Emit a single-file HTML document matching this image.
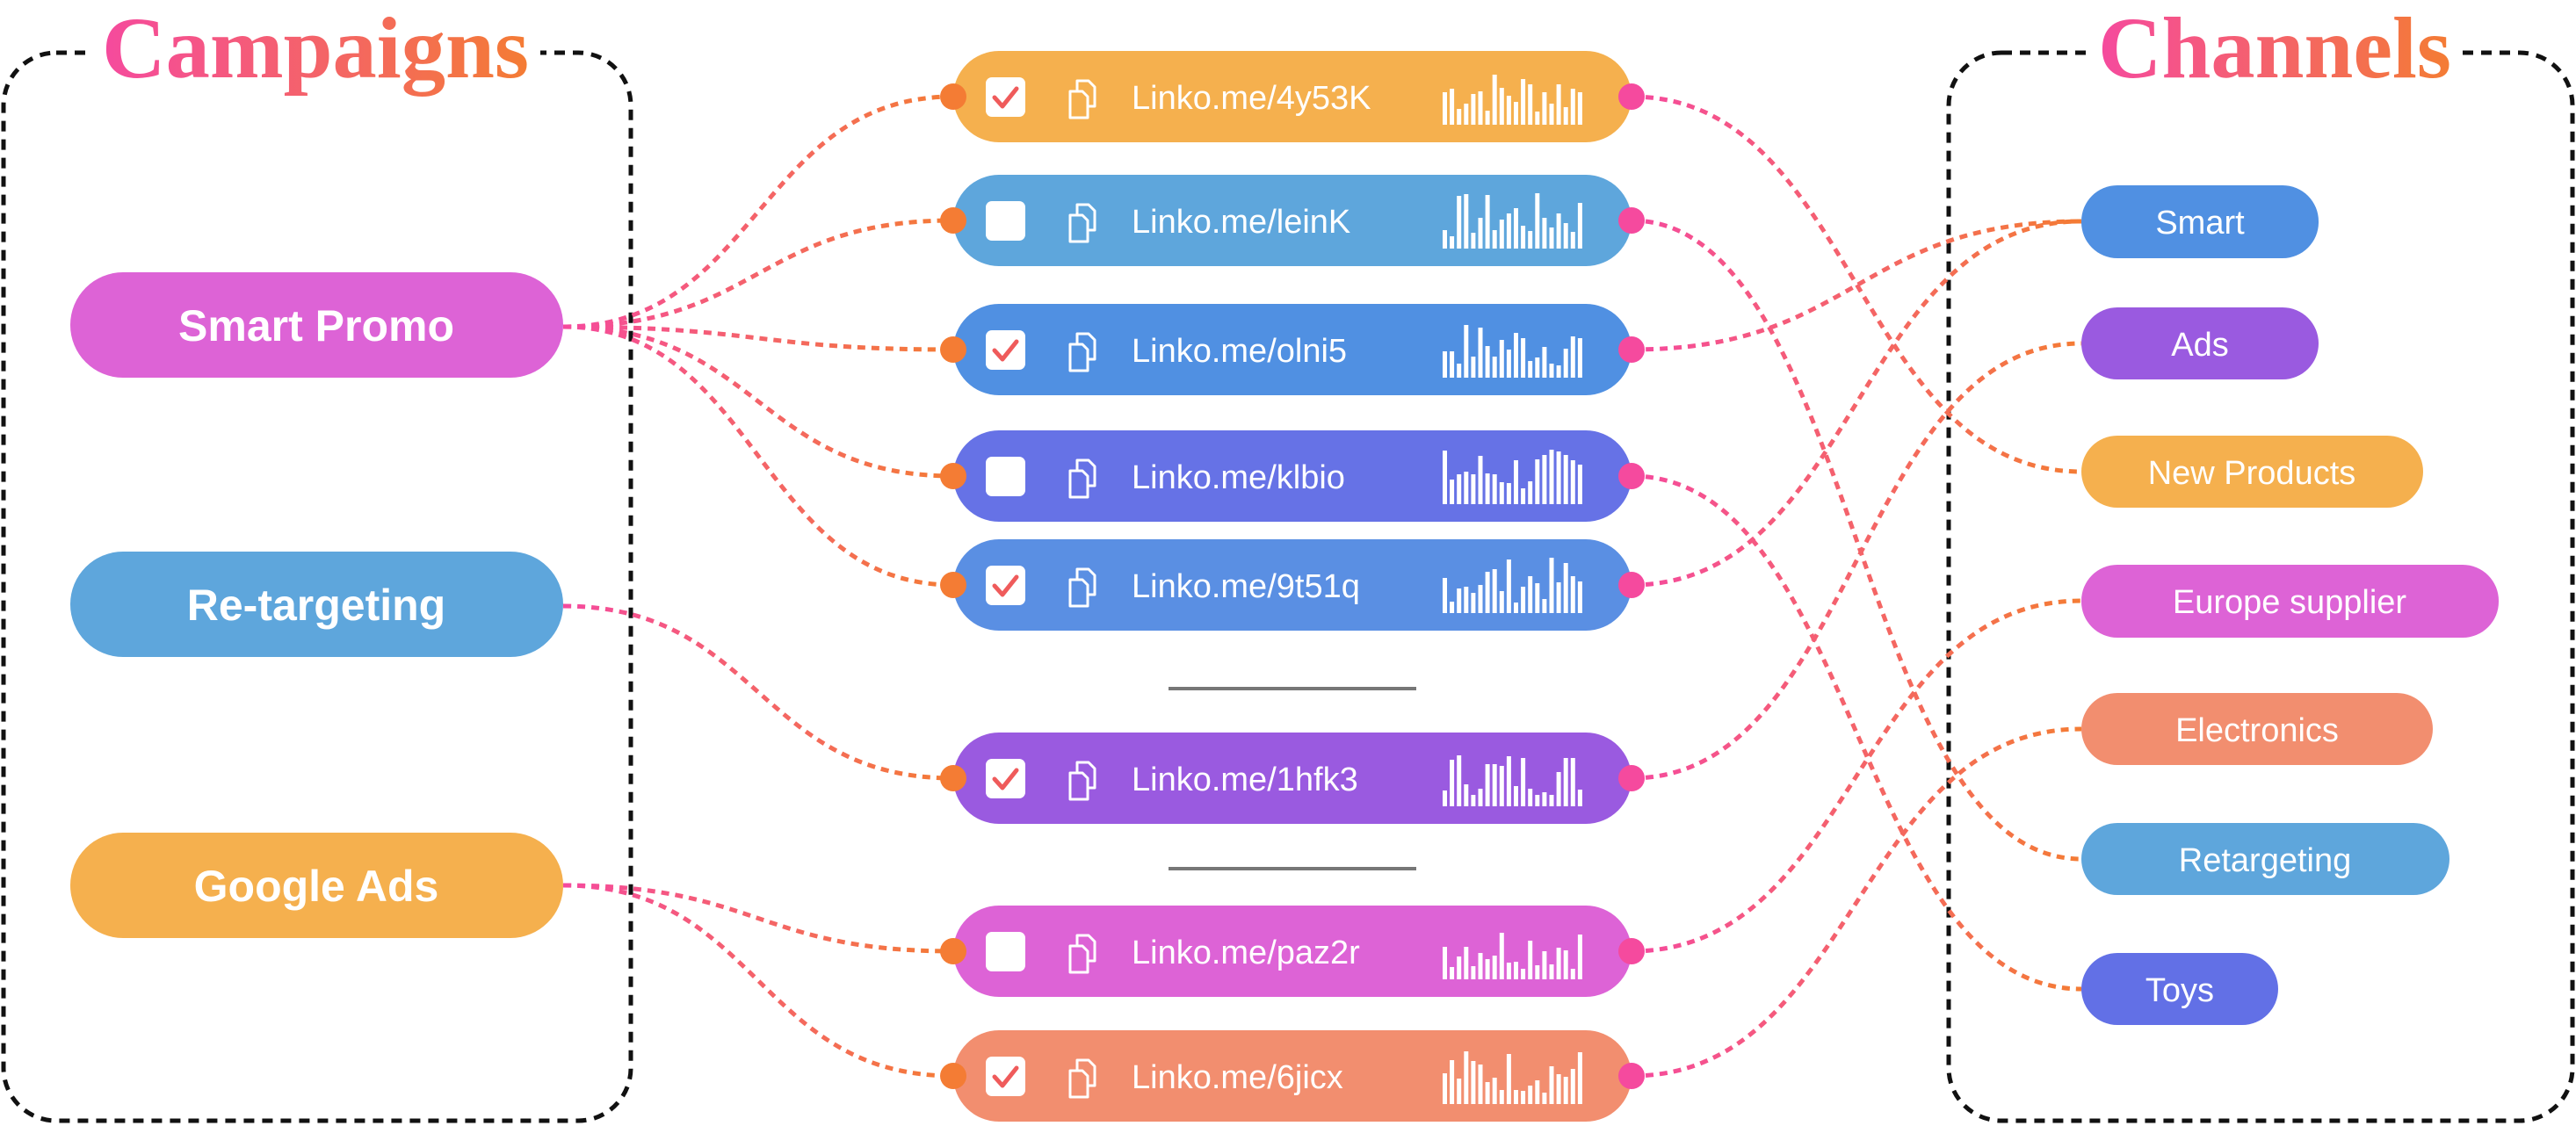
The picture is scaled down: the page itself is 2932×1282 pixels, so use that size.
<!DOCTYPE html>
<html><head><meta charset="utf-8"><style>
html,body{margin:0;padding:0;background:#fff;}
svg{display:block;}
.lt{font-family:"Liberation Sans",sans-serif;fill:#fff;font-size:38px;}
.ct{font-family:"Liberation Sans",sans-serif;fill:#fff;font-size:50px;font-weight:bold;}
.ch{font-family:"Liberation Sans",sans-serif;fill:#fff;font-size:38px;}
.tt{font-family:"Liberation Serif",serif;font-weight:bold;font-size:100px;}
</style></head><body>
<svg id="s" width="2932" height="1282" viewBox="0 0 2932 1282" xmlns="http://www.w3.org/2000/svg">
<defs>
<linearGradient id="tg" x1="0" x2="1" y1="0" y2="0"><stop offset="0" stop-color="#f54a9e"/><stop offset="1" stop-color="#f47c34"/></linearGradient>
<linearGradient id="gl" gradientUnits="userSpaceOnUse" x1="641" x2="1085" y1="0" y2="0"><stop offset="0" stop-color="#f54a9e"/><stop offset="1" stop-color="#f47c34"/></linearGradient>
<linearGradient id="gr" gradientUnits="userSpaceOnUse" x1="1857" x2="2369" y1="0" y2="0"><stop offset="0" stop-color="#f54a9e"/><stop offset="1" stop-color="#f47c34"/></linearGradient>
</defs>
<!-- boxes -->
<rect x="4" y="60" width="714" height="1216" rx="60" fill="none" stroke="#111" stroke-width="5" stroke-dasharray="12 9"/>
<rect x="2218" y="60" width="710" height="1216" rx="60" fill="none" stroke="#111" stroke-width="5" stroke-dasharray="12 9"/>
<rect x="105" y="20" width="510" height="80" fill="#fff"/>
<rect x="2378" y="20" width="424" height="80" fill="#fff"/>
<text class="tt" x="116" y="88" textLength="486" lengthAdjust="spacingAndGlyphs" fill="url(#tg)">Campaigns</text>
<text class="tt" x="2388" y="88" textLength="402" lengthAdjust="spacingAndGlyphs" fill="url(#tg)">Channels</text>
<!-- separators -->
<line x1="1330" y1="784" x2="1612" y2="784" stroke="#777" stroke-width="4"/>
<line x1="1330" y1="989" x2="1612" y2="989" stroke="#777" stroke-width="4"/>
<g id="curves"></g>
<!-- campaigns -->
<rect x="80" y="310" width="561" height="120" rx="60" fill="#dd63d6"/>
<text class="ct" x="360" y="388" text-anchor="middle">Smart Promo</text>
<rect x="80" y="628" width="561" height="120" rx="60" fill="#5ea6dc"/>
<text class="ct" x="360" y="706" text-anchor="middle">Re-targeting</text>
<rect x="80" y="948" width="561" height="120" rx="60" fill="#f5b04e"/>
<text class="ct" x="360" y="1026" text-anchor="middle">Google Ads</text>
<!-- channels -->
<rect x="2369" y="211" width="270" height="83" rx="41" fill="#5090e2"/><text class="ch" x="2504" y="266" text-anchor="middle">Smart</text>
<rect x="2369" y="350" width="270" height="82" rx="41" fill="#9a5ae0"/><text class="ch" x="2504" y="405" text-anchor="middle">Ads</text>
<rect x="2369" y="496" width="389" height="82" rx="41" fill="#f5b04e"/><text class="ch" x="2563" y="551" text-anchor="middle">New Products</text>
<rect x="2369" y="643" width="475" height="83" rx="41" fill="#dd63d6"/><text class="ch" x="2606" y="698" text-anchor="middle">Europe supplier</text>
<rect x="2369" y="789" width="400" height="82" rx="41" fill="#f28e6f"/><text class="ch" x="2569" y="844" text-anchor="middle">Electronics</text>
<rect x="2369" y="937" width="419" height="82" rx="41" fill="#5ea6dc"/><text class="ch" x="2578" y="992" text-anchor="middle">Retargeting</text>
<rect x="2369" y="1085" width="224" height="82" rx="41" fill="#6270e6"/><text class="ch" x="2481" y="1140" text-anchor="middle">Toys</text>
<!-- links -->
<g id="links">
<text class="lt" x="1288" y="124">Linko.me/4y53K</text>
<text class="lt" x="1288" y="265">Linko.me/leinK</text>
<text class="lt" x="1288" y="412">Linko.me/olni5</text>
<text class="lt" x="1288" y="556">Linko.me/klbio</text>
<text class="lt" x="1288" y="680">Linko.me/9t51q</text>
<text class="lt" x="1288" y="900">Linko.me/1hfk3</text>
<text class="lt" x="1288" y="1097">Linko.me/paz2r</text>
<text class="lt" x="1288" y="1239">Linko.me/6jicx</text>
</g>
</svg>
<script>
var NS="http://www.w3.org/2000/svg",s=document.getElementById('s');
function el(t,a,p){var e=document.createElementNS(NS,t);for(var k in a)e.setAttribute(k,a[k]);(p||s).appendChild(e);return e;}
var rows=[[110,'#f5b04e',1],[251,'#5ea6dc',0],[398,'#5090e2',1],[542,'#6672e6',0],[666,'#5a8fe3',1],[886,'#9a5ae0',1],[1083,'#dd63d6',0],[1225,'#f28e6f',1]];
var links=document.getElementById('links'),cur=document.getElementById('curves');
function curve(x1,y1,x2,y2,g){var m=(x1+x2)/2;el('path',{d:'M'+x1+' '+y1+' C'+m+' '+y1+' '+m+' '+y2+' '+x2+' '+y2,fill:'none',stroke:'url(#'+g+')','stroke-width':5,'stroke-dasharray':'9 7'},cur);}
// left
[0,1,2,3,4].forEach(function(i){curve(641,372,1085,rows[i][0],'gl');});
curve(641,690,1085,rows[5][0],'gl');
curve(641,1008,1085,rows[6][0],'gl');curve(641,1008,1085,rows[7][0],'gl');
// right
var tgt=[537,978,252,1126,252,391,684,830];
tgt.forEach(function(t,i){curve(1857,rows[i][0],2369,t,'gr');});
var seed=7;function rnd(){seed=(seed*9301+49297)%233280;return seed/233280;}
rows.forEach(function(r){
 var cy=r[0],g=el('g',{});links.parentNode.insertBefore(g,links);
 el('rect',{x:1085,y:cy-52,width:772,height:104,rx:52,fill:r[1]},g);
 el('rect',{x:1122,y:cy-22,width:45,height:45,rx:7,fill:'#fff'},g);
 if(r[2])el('path',{d:'M1132 '+(cy+1)+' l9 10 l16 -20',fill:'none',stroke:'#ef5b5b','stroke-width':5,'stroke-linecap':'round','stroke-linejoin':'round'},g);
 el('path',{d:'M1218 '+(cy-6)+' h14 l6 6 v24 h-20 z M1226 '+(cy-6)+' v-12 h13 l7 7 v22 h-8',fill:'none',stroke:'#fff','stroke-width':3,'stroke-linejoin':'round'},g);
 for(var b=0;b<20;b++){var h=12+Math.floor(rnd()*52);el('rect',{x:1642+b*8.1,y:cy+32-h,width:5,height:h,fill:'#fff'},g);}
 el('circle',{cx:1085,cy:cy,r:15,fill:'#f47c34'});
 el('circle',{cx:1857,cy:cy,r:15,fill:'#f54a9e'});
});
</script>
</body></html>
